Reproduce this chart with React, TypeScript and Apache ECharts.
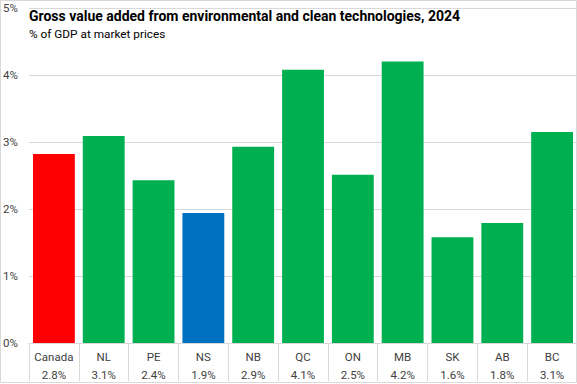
import React, { useEffect, useRef } from "react";
import * as echarts from "echarts";

const categories = ["Canada", "NL", "PE", "NS", "NB", "QC", "ON", "MB", "SK", "AB", "BC"];
const values = [2.82, 3.09, 2.43, 1.94, 2.93, 4.08, 2.51, 4.2, 1.58, 1.79, 3.15];
const labels = ["2.8%", "3.1%", "2.4%", "1.9%", "2.9%", "4.1%", "2.5%", "4.2%", "1.6%", "1.8%", "3.1%"];
const colors = ["#ff0000", "#00b050", "#00b050", "#0070c0", "#00b050", "#00b050", "#00b050", "#00b050", "#00b050", "#00b050", "#00b050"];
const title = "Gross value added from environmental and clean technologies, 2024";
const subtitle = "% of GDP at market prices";

export default function App() {
  const ref = useRef<HTMLDivElement>(null);
  useEffect(() => {
    document.body.style.margin = "0";
    const chart = echarts.init(ref.current!, null, { renderer: "svg" });
    chart.setOption({
      animation: false,
      textStyle: { fontFamily: "Roboto" },
      title: {
        text: title,
        subtext: subtitle,
        left: 24,
        top: 4,
        itemGap: 5,
        textStyle: { fontSize: 14, fontWeight: "bold", color: "#000", fontFamily: "Roboto" },
        subtextStyle: { fontSize: 11.8, color: "#000", fontFamily: "Roboto" },
      },
      grid: { left: 29, right: 0, top: 8, bottom: 40, containLabel: false },
      xAxis: {
        type: "category",
        data: categories,
        axisLine: { show: true, lineStyle: { color: "#d9d9d9" } },
        axisTick: { show: true, length: 38, lineStyle: { color: "#d9d9d9" } },
        axisLabel: {
          interval: 0,
          margin: 5,
          color: "#404040",
          fontSize: 11.5,
          lineHeight: 18,
          formatter: (v: string, i: number) => `${v}\n${labels[i]}`,
        },
      },
      yAxis: {
        type: "value",
        min: 0,
        max: 5,
        interval: 1,
        axisLine: { show: false },
        axisTick: { show: false },
        splitLine: { lineStyle: { color: "#d9d9d9" } },
        axisLabel: { formatter: "{value}%", align: "left", margin: 26, color: "#404040", fontSize: 11.5 },
      },
      series: [
        {
          type: "bar",
          data: values.map((v, i) => ({ value: v, itemStyle: { color: colors[i] } })),
          barCategoryGap: "16%",
        },
      ],
      graphic: [
        {
          type: "rect",
          shape: { x: 0.5, y: 0.5, width: 576, height: 382 },
          style: { fill: "none", stroke: "#d9d9d9", lineWidth: 1 },
          silent: true,
        },
      ],
    });
    return () => chart.dispose();
  }, []);
  return <div ref={ref} style={{ width: 577, height: 384 }} />;
}
